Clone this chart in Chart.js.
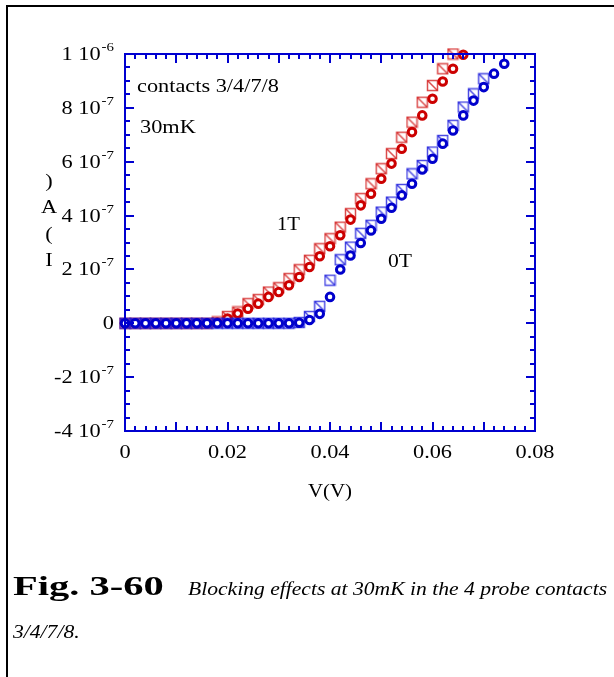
<!DOCTYPE html>
<html>
<head>
<meta charset="utf-8">
<script src="https://cdn.jsdelivr.net/npm/chart.js@4.4.1/dist/chart.umd.min.js"></script>
<style>
  body { margin: 0; background: #fff; }
  #wrap { position: relative; width: 614px; height: 677px; }
</style>
</head>
<body>
<div id="wrap"><canvas id="iv-chart" width="614" height="677"></canvas></div>
<script>
// current in units of 1e-7 A, voltage in V
const v0tSquares = [0, 0.002, 0.004, 0.006, 0.008, 0.010, 0.012, 0.014, 0.016, 0.018, 0.020, 0.022, 0.024, 0.026, 0.028, 0.030, 0.032, 0.034, 0.036, 0.038, 0.040, 0.042, 0.044, 0.046, 0.048, 0.050, 0.052, 0.054, 0.056, 0.058, 0.060, 0.062, 0.064, 0.066, 0.068, 0.070];
const i0tSquares = [0, 0, 0, 0, 0, 0, 0, 0, 0, 0, 0, 0, 0, 0, 0, 0, 0, 0.03, 0.25, 0.63, 1.6, 2.36, 2.83, 3.34, 3.64, 4.13, 4.5, 4.97, 5.55, 5.86, 6.36, 6.79, 7.35, 8.03, 8.52, 9.08];

const v0tCircles = [0, 0.002, 0.004, 0.006, 0.008, 0.010, 0.012, 0.014, 0.016, 0.018, 0.020, 0.022, 0.024, 0.026, 0.028, 0.030, 0.032, 0.034, 0.036, 0.038, 0.040, 0.042, 0.044, 0.046, 0.048, 0.050, 0.052, 0.054, 0.056, 0.058, 0.060, 0.062, 0.064, 0.066, 0.068, 0.070, 0.072, 0.074];
const i0tCircles = [0, 0, 0, 0, 0, 0, 0, 0, 0, 0, 0, 0, 0, 0, 0, 0, 0, 0.02, 0.12, 0.35, 0.98, 2.0, 2.52, 2.98, 3.45, 3.88, 4.29, 4.75, 5.18, 5.71, 6.11, 6.67, 7.16, 7.72, 8.27, 8.77, 9.27, 9.64];

const v1tSquares = [0, 0.002, 0.004, 0.006, 0.008, 0.010, 0.012, 0.014, 0.016, 0.018, 0.020, 0.022, 0.024, 0.026, 0.028, 0.030, 0.032, 0.034, 0.036, 0.038, 0.040, 0.042, 0.044, 0.046, 0.048, 0.050, 0.052, 0.054, 0.056, 0.058, 0.060, 0.062, 0.064];
const i1tSquares = [0, 0, 0, 0, 0, 0, 0, 0, 0, 0.05, 0.25, 0.42, 0.73, 0.88, 1.16, 1.32, 1.66, 1.99, 2.34, 2.77, 3.14, 3.57, 4.07, 4.63, 5.18, 5.74, 6.3, 6.91, 7.47, 8.21, 8.83, 9.45, 10.0];

const v1tCircles = [0, 0.002, 0.004, 0.006, 0.008, 0.010, 0.012, 0.014, 0.016, 0.018, 0.020, 0.022, 0.024, 0.026, 0.028, 0.030, 0.032, 0.034, 0.036, 0.038, 0.040, 0.042, 0.044, 0.046, 0.048, 0.050, 0.052, 0.054, 0.056, 0.058, 0.060, 0.062, 0.064, 0.066];
const i1tCircles = [0, 0, 0, 0, 0, 0, 0, 0, 0, 0.03, 0.18, 0.36, 0.54, 0.73, 0.98, 1.16, 1.41, 1.72, 2.09, 2.49, 2.86, 3.27, 3.85, 4.38, 4.81, 5.37, 5.93, 6.48, 7.1, 7.72, 8.34, 8.98, 9.45, 9.97];

const xTickValues = [0, 0.02, 0.04, 0.06, 0.08];
const xTickLabels = ['0', '0.02', '0.04', '0.06', '0.08'];
const yTickValues = [10, 8, 6, 4, 2, 0, -2, -4];
const yTickMantissas = ['1', '8', '6', '4', '2', '0', '-2', '-4'];
const yTickExponents = ['-6', '-7', '-7', '-7', '-7', '', '-7', '-7'];

const AXIS_BLUE = '#0000d0';
const RED = '#cc0000';
const BLUE = '#0000cc';
const SERIF = '"Liberation Serif", "Times New Roman", serif';
const SX = 1.24; // text in this figure is set wide

function toPoints(xs, ys) {
    return xs.map((x, i) => ({ x: x, y: ys[i] }));
}

// open square with a diagonal stroke, used as a point style
function slashedSquare(color) {
    const c = document.createElement('canvas');
    c.width = 13;
    c.height = 13;
    const g = c.getContext('2d');
    g.strokeStyle = color;
    g.lineWidth = 1.5;
    g.strokeRect(1.5, 1.5, 10, 10);
    g.beginPath();
    g.moveTo(1.5, 1.5);
    g.lineTo(11.5, 11.5);
    g.stroke();
    return c;
}

function circleSet(data, color) {
    return {
        data: data,
        pointStyle: 'circle',
        pointRadius: 3.8,
        pointBorderWidth: 3,
        pointBorderColor: color,
        pointBackgroundColor: '#fff',
        showLine: false,
        clip: false
    };
}

function squareSet(data, color) {
    return {
        data: data,
        pointStyle: slashedSquare(color),
        pointRadius: 6,
        showLine: false,
        clip: false
    };
}

function wideText(ctx, str, x, y, font, sx, align) {
    ctx.save();
    ctx.font = font;
    ctx.textAlign = align || 'left';
    ctx.translate(x, y);
    ctx.scale(sx, 1);
    ctx.fillText(str, 0, 0);
    ctx.restore();
}

function textWidth(ctx, str, font, sx) {
    ctx.font = font;
    return ctx.measureText(str).width * sx;
}

function drawSci(ctx, mant, exp, right, base) {
    const big = '18px ' + SERIF, small = '12px ' + SERIF;
    const main = exp ? mant + ' 10' : mant;
    const wMain = textWidth(ctx, main, big, SX);
    const wExp = exp ? textWidth(ctx, exp, small, SX) + 1 : 0;
    wideText(ctx, main, right - wExp - wMain, base, big, SX);
    if (exp) wideText(ctx, exp, right - wExp + 1, base - 9, small, SX);
}

const framePlugin = {
    id: 'frame',
    beforeDraw(chart) {
        const ctx = chart.ctx;
        ctx.save();
        ctx.fillStyle = '#fff';
        ctx.fillRect(0, 0, chart.width, chart.height);
        // page border, top and left only
        ctx.strokeStyle = '#000';
        ctx.lineWidth = 2;
        ctx.beginPath();
        ctx.moveTo(7, 677);
        ctx.lineTo(7, 6);
        ctx.lineTo(614, 6);
        ctx.stroke();
        ctx.restore();
    },
    afterDatasetsDraw(chart) {
        const { ctx, chartArea: a, scales } = chart;
        const xs = scales.x, ys = scales.y;
        ctx.save();
        ctx.strokeStyle = AXIS_BLUE;
        ctx.lineWidth = 2;
        ctx.strokeRect(a.left, a.top, a.right - a.left, a.bottom - a.top);

        ctx.beginPath();
        for (let k = 0; k <= 40; k++) {
            const px = Math.round(xs.getPixelForValue(k * 0.002));
            const len = k % 5 === 0 ? 9 : 5;
            ctx.moveTo(px, a.bottom); ctx.lineTo(px, a.bottom - len);
            ctx.moveTo(px, a.top); ctx.lineTo(px, a.top + len);
        }
        for (let k = -8; k <= 20; k++) {
            const py = Math.round(ys.getPixelForValue(k * 0.5));
            const len = k % 4 === 0 ? 9 : 5;
            ctx.moveTo(a.left, py); ctx.lineTo(a.left + len, py);
            ctx.moveTo(a.right, py); ctx.lineTo(a.right - len, py);
        }
        ctx.stroke();

        ctx.fillStyle = '#000';
        ctx.textBaseline = 'alphabetic';
        const f18 = '18px ' + SERIF;
        xTickValues.forEach((v, i) => {
            wideText(ctx, xTickLabels[i], xs.getPixelForValue(v), a.bottom + 27, f18, SX, 'center');
        });
        yTickValues.forEach((v, i) => {
            drawSci(ctx, yTickMantissas[i], yTickExponents[i], 114, ys.getPixelForValue(v) + 6);
        });

        // axis titles
        wideText(ctx, 'V(V)', (a.left + a.right) / 2, 497, f18, 1.16, 'center');
        const stacked = [')', 'A', '(', 'I'];
        const stackY = [187, 213, 240, 266];
        stacked.forEach((ch, i) => wideText(ctx, ch, 49, stackY[i], f18, SX, 'center'));

        // annotations inside the plot
        wideText(ctx, 'contacts 3/4/7/8', 137, 92, f18, SX);
        wideText(ctx, '30mK', 140, 133, f18, SX);
        wideText(ctx, '1T', 277, 230, f18, 1.15);
        wideText(ctx, '0T', 388, 267, f18, 1.2);

        // caption
        wideText(ctx, 'Fig. 3-60', 13, 595, 'bold 27px ' + SERIF, 1.5);
        const ital = 'italic 18px ' + SERIF;
        wideText(ctx, 'Blocking effects at 30mK in the 4 probe contacts', 188, 595, ital, 1.2);
        wideText(ctx, '3/4/7/8.', 13, 638, ital, 1.2);
        ctx.restore();
    }
};

new Chart(document.getElementById('iv-chart'), {
    type: 'scatter',
    data: {
        datasets: [
            circleSet(toPoints(v0tCircles, i0tCircles), BLUE),
            squareSet(toPoints(v0tSquares, i0tSquares), 'rgba(30,30,220,0.8)'),
            circleSet(toPoints(v1tCircles, i1tCircles), RED),
            squareSet(toPoints(v1tSquares, i1tSquares), 'rgba(210,30,30,0.8)')
        ]
    },
    options: {
        responsive: false,
        animation: false,
        layout: { padding: { left: 125, right: 79, top: 54, bottom: 246 } },
        plugins: { legend: { display: false }, tooltip: { enabled: false } },
        scales: {
            x: { type: 'linear', min: 0, max: 0.08, display: false },
            y: { type: 'linear', min: -4, max: 10, display: false }
        }
    },
    plugins: [framePlugin]
});
</script>
</body>
</html>
